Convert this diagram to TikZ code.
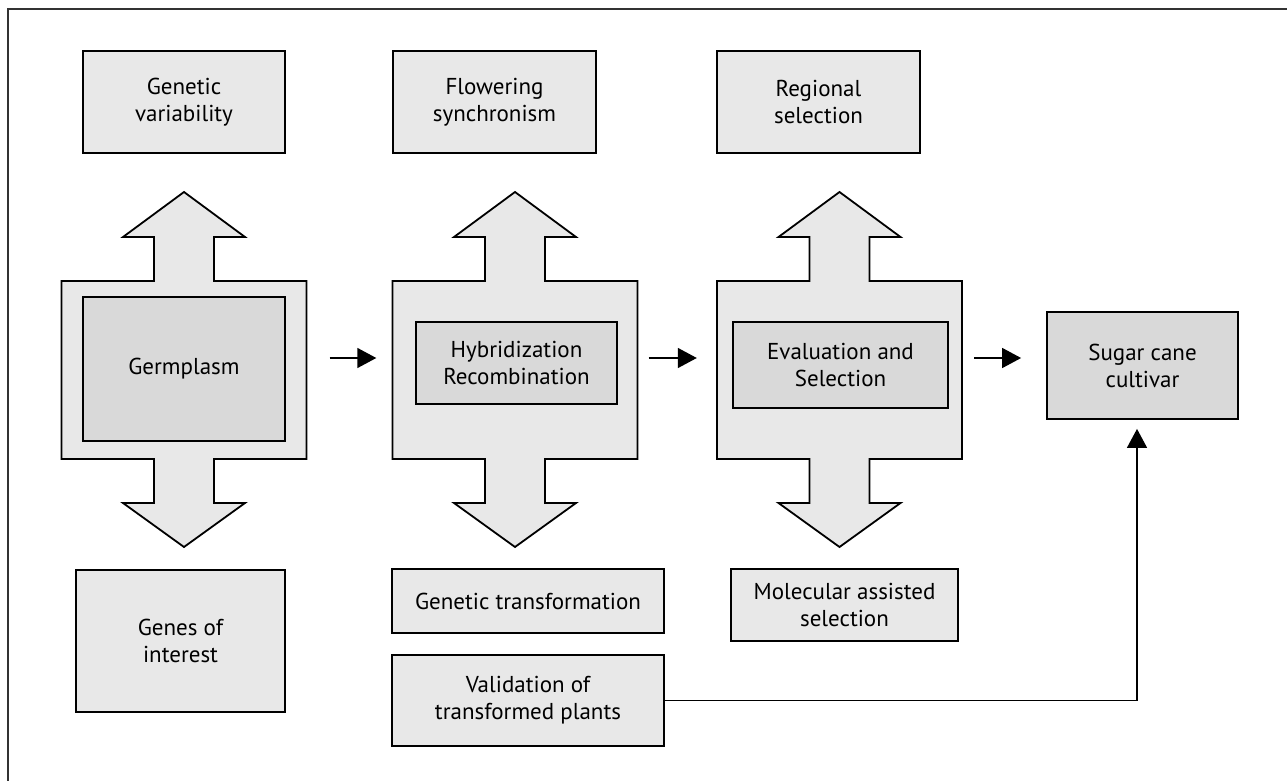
\documentclass[tikz,border=0pt]{standalone}
\usepackage{fontspec}
\setmainfont{PT Sans}
\usetikzlibrary{arrows.meta,positioning}
\definecolor{BoxColor}{HTML}{E8E8E8}
\definecolor{CoreColor}{HTML}{D9D9D9}
\definecolor{FrameColor}{HTML}{333333}

\begin{document}
\begin{tikzpicture}[
      x=1pt, y=-1pt,
      every node/.style={font=\fontsize{23}{27}\selectfont, align=center, inner sep=0pt},
      box/.style={draw, line width=1.8pt, fill=BoxColor},
      core/.style={box, fill=CoreColor},
      stagebody/.style={minimum width=245pt, minimum height=178pt},
      stageshape/.style={draw, line width=1.8pt, fill=BoxColor, line join=miter},
      flow/.style={line width=1.5pt, -{Triangle[length=19pt,width=20pt]}},
  ]
  \useasboundingbox (0,0) rectangle (1287,781);
  % ┌───────┐
  % │ Frame │
  % └───────┘
  \draw[FrameColor, line width=2.5pt] (8,781) -- (8,9) -- (1287,9);
  % ┌──────────────────────────┐
  % │ Stages with double arrow │
  % └──────────────────────────┘
  \foreach \cx/\i in {184/1, 515/2, 839.5/3} {
    \node[stagebody] (col\i) at (\cx,370) {};
    \draw[stageshape]
      (\cx-30,237) -- (\cx-61,237) -- (\cx,192) -- (\cx+61,237) -- (\cx+30,237)
      -- (\cx+30,281) -- (\cx+122.5,281) -- (\cx+122.5,459) -- (\cx+30,459)
      -- (\cx+30,503) -- (\cx+61,503) -- (\cx,547) -- (\cx-61,503) -- (\cx-30,503)
      -- (\cx-30,459) -- (\cx-122.5,459) -- (\cx-122.5,281) -- (\cx-30,281) -- cycle;
  }
  \node[core, minimum width=202pt, minimum height=144pt] (germ) at (184,369) {Germplasm};
  \node[core, minimum width=201pt, minimum height=82pt] (hybrid) at (516.5,363) {Hybridization\\Recombination};
  \node[core, minimum width=215pt, minimum height=86pt] (evalu) at (840.5,365) {Evaluation and\\Selection};
  \node[core, minimum width=191pt, minimum height=107pt] (sugar) at (1142.5,365.5) {Sugar cane\\cultivar};
  % ┌───────────┐
  % │ Top boxes │
  % └───────────┘
  \node[box, minimum width=202pt, minimum height=102pt] (varia) at (184,102) {Genetic\\variability};
  \node[box, minimum width=203pt, minimum height=102pt] (flower) at (494.5,102) {Flowering\\synchronism};
  \node[box, minimum width=203pt, minimum height=102pt] (region) at (818.5,102) {Regional\\selection};
  % ┌──────────────┐
  % │ Bottom boxes │
  % └──────────────┘
  \node[box, minimum width=209pt, minimum height=142pt] (genes) at (180.5,641) {Genes of\\interest};
  \node[box, minimum width=272pt, minimum height=64pt] (transf) at (528,601) {Genetic transformation};
  \node[box, minimum width=272pt, minimum height=91pt] (valid) at (528,700.5) {Validation of\\transformed plants};
  \node[box, minimum width=227pt, minimum height=72pt] (molec) at (844.5,605) {Molecular assisted\\selection};
  % ┌─────────────┐
  % │ Connections │
  % └─────────────┘
  \coordinate (row) at (0,358);
  \draw[flow, shorten <=23pt, shorten >=16pt] (col1.east |- row) -- (col2.west |- row);
  \draw[flow, shorten <=11pt, shorten >=20pt] (col2.east |- row) -- (col3.west |- row);
  \draw[flow, shorten <=12pt, shorten >=25pt] (col3.east |- row) -- (sugar.west |- row);
  \draw[flow, shorten >=9pt] (valid.east) -| ([xshift=-5.5pt]sugar.south);
\end{tikzpicture}
\end{document}
